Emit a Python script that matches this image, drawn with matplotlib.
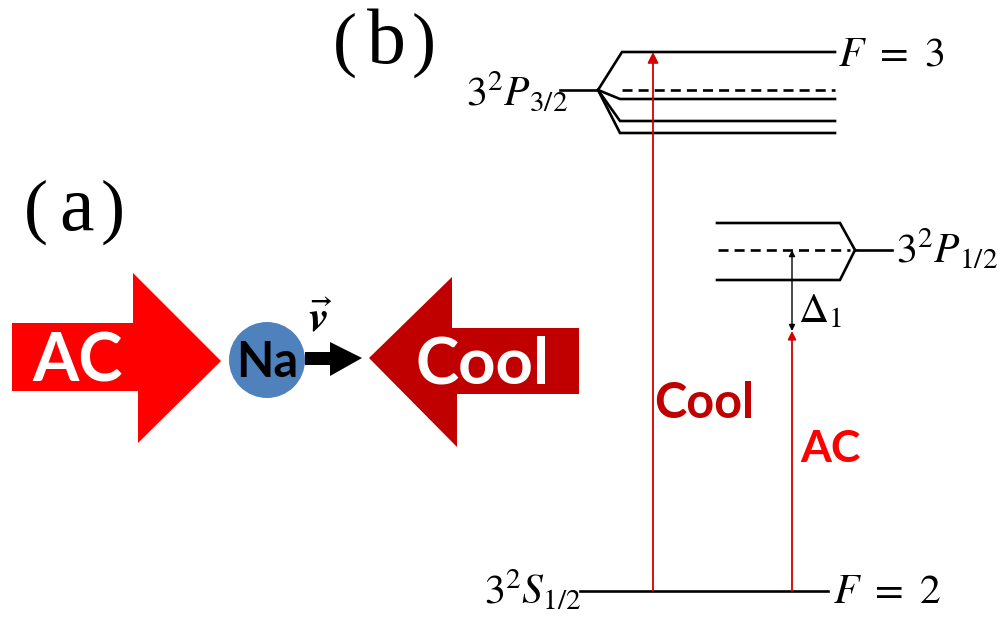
import matplotlib
matplotlib.use("Agg")
import matplotlib.pyplot as plt
from matplotlib.patches import Polygon, Circle

plt.rcParams["mathtext.fontset"] = "stix"

# sodium level scheme (b), drawn in pixel units of the 1005x618 canvas
p32_fan = (598, 90)            # 3P3/2 centroid, where the hyperfine lines split
p32_hfs = [52, 99, 121, 133]   # F=3 on top, then the three lower F levels
p32_labels = [r"$F\ =\ 3$", "", "", ""]
p12_fan = (855, 250)
p12_hfs = [223, 280]
s12_y = 591
cool_x, ac_x = 653, 792
delta_top = 250

# (a) beam arrows
ac_arrow = [(12, 323), (133, 323), (133, 273), (221, 361), (138, 443), (138, 391), (12, 391)]
cool_arrow = [(579, 328), (452, 328), (452, 277), (369, 358), (457, 447), (457, 394), (579, 394)]
v_arrow = [(305, 352), (330, 352), (330, 342), (362, 358), (330, 376), (330, 365), (305, 365)]

RED = "#FF0000"
DARK = "#C00000"
LINE_RED = "#D40000"
BLUE = "#4F81BD"
MATH_FS = 30

fig = plt.figure(figsize=(10.05, 6.18), dpi=100)
ax = fig.add_axes([0, 0, 1, 1])
ax.set_xlim(0, 1005)
ax.set_ylim(618, 0)
ax.axis("off")

lw = 1.9
dash = (0, (3.8, 2.3))

# ---- panel (a) ----
ax.add_patch(Polygon(ac_arrow, closed=True, color=RED, lw=0))
ax.add_patch(Polygon(cool_arrow, closed=True, color=DARK, lw=0))
ax.add_patch(Circle((267, 360), 38, color=BLUE, lw=0))
ax.add_patch(Polygon(v_arrow, closed=True, color="black", lw=0))
bold = dict(family="Lato", weight="bold", ha="center", va="baseline")
ax.text(78, 382, "AC", color="white", fontsize=48, **bold)
ax.text(483, 384, "Cool", color="white", fontsize=47, **bold)
ax.text(267, 377, "Na", color="black", fontsize=35, **bold)
ax.text(320, 332, r"$\vec{\boldsymbol{v}}$", fontsize=32, ha="center", va="baseline")

serif = dict(family="Liberation Serif", ha="center", va="baseline")
for x, s, fs in [(36, "(", 52), (76, "a", 56), (113, ")", 52)]:
    ax.text(x, 230, s, fontsize=fs, **serif)
for x, s, fs in [(345, "(", 52), (386, "b", 56), (424, ")", 52)]:
    ax.text(x, 63, s, fontsize=fs, **serif)

# ---- panel (b) ----
fx, fy = p32_fan
ax.plot([560, fx], [fy, fy], color="black", lw=lw)
for y, lab in zip(p32_hfs, p32_labels):
    x0 = 622 if y < fy else 620
    ax.plot([fx, x0, 835], [fy, y, y], color="black", lw=lw, solid_joinstyle="miter")
    if lab:
        ax.text(838, y + 14, lab, fontsize=MATH_FS, ha="left", va="baseline")
ax.plot([622, 835], [fy, fy], color="black", lw=lw, linestyle=dash)
ax.text(568, 105, "$3^2P_{3/2}$", fontsize=MATH_FS, ha="right", va="baseline")

gx, gy = p12_fan
for y in p12_hfs:
    ax.plot([717, 840, gx], [y, y, gy], color="black", lw=lw, solid_joinstyle="miter")
ax.plot([gx, 892], [gy, gy], color="black", lw=lw)
ax.plot([718, 850], [gy, gy], color="black", lw=lw, linestyle=dash)
ax.text(896, 262, "$3^2P_{1/2}$", fontsize=MATH_FS, ha="left", va="baseline")

ax.plot([580, 828], [s12_y, s12_y], color="black", lw=lw)
ax.text(581, 603, "$3^2S_{1/2}$", fontsize=MATH_FS, ha="right", va="baseline")
ax.text(833, 603, r"$F\ =\ 2$", fontsize=MATH_FS, ha="left", va="baseline")

# laser transitions
ax.annotate("", xy=(cool_x, p32_hfs[0]), xytext=(cool_x, s12_y),
            arrowprops=dict(arrowstyle="-|>", color=LINE_RED, lw=1.3,
                            mutation_scale=16, shrinkA=0, shrinkB=0))
ax.annotate("", xy=(ac_x, 331), xytext=(ac_x, s12_y),
            arrowprops=dict(arrowstyle="-|>", color=LINE_RED, lw=1.3,
                            mutation_scale=12, shrinkA=0, shrinkB=0))
ax.annotate("", xy=(ac_x, delta_top), xytext=(ac_x, 331),
            arrowprops=dict(arrowstyle="<|-|>", color="black", lw=1.0,
                            mutation_scale=9, shrinkA=0, shrinkB=0))
ax.text(798, 322, r"$\Delta_1$", fontsize=MATH_FS, ha="left", va="baseline")

ax.text(704, 418, "Cool", color=DARK, fontsize=35, **bold)
ax.text(830, 462, "AC", color=RED, fontsize=32, **bold)

fig.savefig("out.png", dpi=100)
